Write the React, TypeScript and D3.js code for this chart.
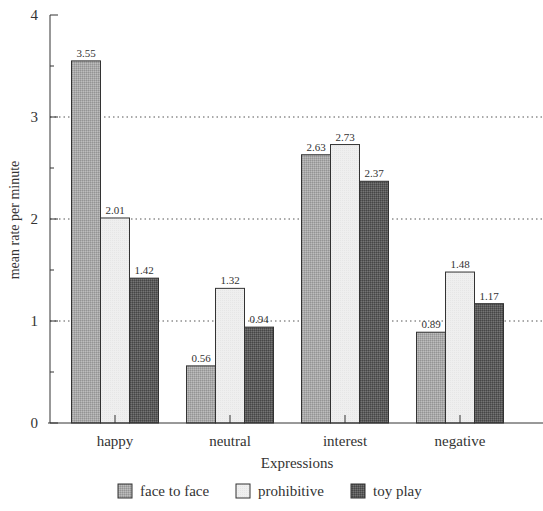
import React from 'react';
import * as d3 from 'd3';

const categories = ['happy', 'neutral', 'interest', 'negative'];
const seriesNames = ['face to face', 'prohibitive', 'toy play'];
const faceToFace = [3.55, 0.56, 2.63, 0.89];
const prohibitive = [2.01, 1.32, 2.73, 1.48];
const toyPlay = [1.42, 0.94, 2.37, 1.17];
const yTicks = [0, 1, 2, 3, 4];
const yMinorTicks = [0.5, 1.5, 2.5, 3.5];
const gridValues = [1, 2, 3];

const series = [faceToFace, prohibitive, toyPlay];
const patternIds = ['pFace', 'pProh', 'pToy'];

const App: React.FC = () => {
    const width = 543;
    const height = 511;
    const font = '"Liberation Serif", "Times New Roman", serif';

    const x = d3.scaleBand<string>()
        .domain(categories)
        .range([57.5, 517.5]);

    const inner = d3.scaleBand<string>()
        .domain(seriesNames)
        .range([0, 87])
        .padding(0);

    const y = d3.scaleLinear()
        .domain([0, 4])
        .range([423, 15]);

    const axisX = 50;
    const groupOffset = (x.bandwidth() - inner.range()[1]) / 2;

    // legend layout
    const legendItems = [
        { swatch: 118, text: 140 },
        { swatch: 236, text: 258 },
        { swatch: 351, text: 373 },
    ];

    return (
        <svg width={width} height={height} style={{ position: 'absolute', left: 0, top: 0, background: '#fff' }}>
            <defs>
                <pattern id="pFace" width="2" height="2" patternUnits="userSpaceOnUse">
                    <rect width="2" height="2" fill="#a9a9a9" />
                    <rect width="1" height="1" fill="#949494" />
                    <rect x="1" y="1" width="1" height="1" fill="#bdbdbd" />
                </pattern>
                <pattern id="pProh" width="2" height="2" patternUnits="userSpaceOnUse">
                    <rect width="2" height="2" fill="#efefef" />
                    <rect width="1" height="1" fill="#e6e6e6" />
                </pattern>
                <pattern id="pToy" width="2" height="2" patternUnits="userSpaceOnUse">
                    <rect width="2" height="2" fill="#5c5c5c" />
                    <rect width="1" height="1" fill="#464646" />
                    <rect x="1" y="1" width="1" height="1" fill="#747474" />
                </pattern>
            </defs>

            {/* grid lines */}
            {gridValues.map(v => (
                <line key={'g' + v} x1={axisX} x2={width} y1={y(v)} y2={y(v)}
                    stroke="#555" strokeWidth={1} strokeDasharray="1.5,3" />
            ))}

            {/* bars */}
            {categories.map((c, ci) => (
                <g key={c}>
                    {series.map((s, si) => {
                        const bx = (x(c) || 0) + groupOffset + (inner(seriesNames[si]) || 0);
                        const val = s[ci];
                        return (
                            <g key={si}>
                                <rect x={bx} y={y(val)} width={inner.bandwidth()} height={y(0) - y(val)}
                                    fill={`url(#${patternIds[si]})`} stroke="#333" strokeWidth={1} />
                                <text x={bx + inner.bandwidth() / 2} y={y(val) - 4} textAnchor="middle"
                                    fontFamily={font} fontSize={11} fill="#333">{val.toFixed(2)}</text>
                            </g>
                        );
                    })}
                </g>
            ))}

            {/* y axis */}
            <line x1={axisX} x2={axisX} y1={y(4)} y2={y(0)} stroke="#333" strokeWidth={1} />
            {yTicks.map(t => (
                <g key={'t' + t}>
                    <line x1={axisX} x2={axisX + 8} y1={y(t)} y2={y(t)} stroke="#333" strokeWidth={1} />
                    <text x={38} y={y(t) + 5} textAnchor="end" fontFamily={font} fontSize={15} fill="#333">{t}</text>
                </g>
            ))}
            {yMinorTicks.map(t => (
                <line key={'m' + t} x1={axisX} x2={axisX + 4} y1={y(t)} y2={y(t)} stroke="#333" strokeWidth={1} />
            ))}

            {/* x axis */}
            <line x1={axisX - 2} x2={width} y1={y(0)} y2={y(0)} stroke="#333" strokeWidth={1} />
            {categories.map(c => {
                const cx = (x(c) || 0) + x.bandwidth() / 2;
                return (
                    <g key={'x' + c}>
                        <line x1={cx} x2={cx} y1={y(0)} y2={y(0) - 8} stroke="#333" strokeWidth={1} />
                        <text x={cx} y={446} textAnchor="middle" fontFamily={font} fontSize={15} fill="#333">{c}</text>
                    </g>
                );
            })}

            {/* axis titles */}
            <text x={297} y={468} textAnchor="middle" fontFamily={font} fontSize={15} fill="#333">Expressions</text>
            <text transform={`translate(19, 220) rotate(-90)`} textAnchor="middle"
                fontFamily={font} fontSize={14} fill="#333">mean rate per minute</text>

            {/* legend */}
            {seriesNames.map((n, i) => (
                <g key={'l' + n}>
                    <rect x={legendItems[i].swatch} y={484} width={14} height={14}
                        fill={`url(#${patternIds[i]})`} stroke="#333" strokeWidth={1} />
                    <text x={legendItems[i].text} y={496} fontFamily={font} fontSize={15} fill="#333">{n}</text>
                </g>
            ))}
        </svg>
    );
};

export default App;
